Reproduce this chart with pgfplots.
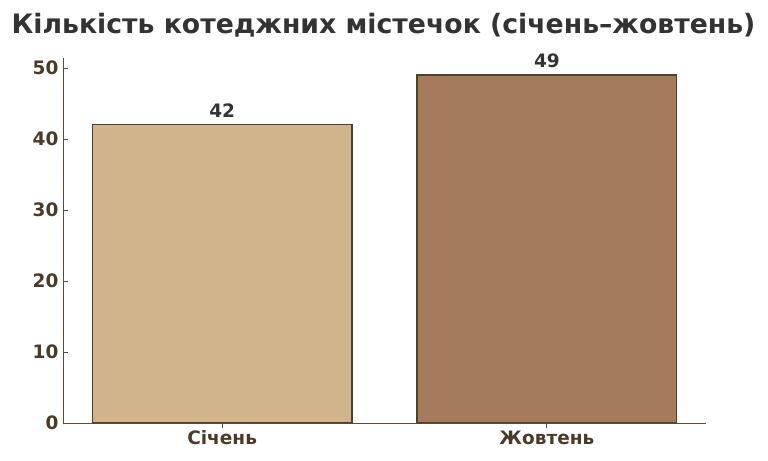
\documentclass[border=0pt]{standalone}
\usepackage{pgfplots}
\pgfplotsset{compat=1.18}
\usepackage{fontspec}
\setmainfont{DejaVu Sans}

\definecolor{janbar}{HTML}{D2B48C}
\definecolor{octbar}{HTML}{A67B5B}
\definecolor{edgebrown}{HTML}{4F3F2C}
\definecolor{axisbrown}{HTML}{5C4A36}
\definecolor{ticktext}{HTML}{4A3A28}
\definecolor{titlegray}{HTML}{333333}

\begin{document}
\begin{tikzpicture}
\path[use as bounding box] (-63bp,-38bp) rectangle (705bp,423bp);
\begin{axis}[
    scale only axis,
    width=643bp, height=365bp,
    xmin=-0.49, xmax=1.49,
    ymin=0, ymax=51.4,
    axis on top,
    axis x line=bottom,
    axis y line=left,
    axis line style={axisbrown, line width=0.9pt, -},
    xtick={0,1},
    xticklabels={Січень,Жовтень},
    ytick={0,10,20,30,40,50},
    tick style={axisbrown, line width=0.8pt},
    tick align=inside,
    major tick length=5bp,
    ticklabel style={font=\bfseries\fontsize{18.5bp}{21bp}\selectfont, text=ticktext},
    /pgf/number format/assume math mode=true,
    xticklabel style={yshift=1bp},
    yticklabel style={xshift=-1bp},
    ybar, bar width=0.8,
    bar shift=0pt,
    nodes near coords,
    every node near coord/.append style={font=\bfseries\fontsize{18.5bp}{21bp}\selectfont, text=titlegray, yshift=3bp},
    clip=false,
]
\addplot[fill=janbar, draw=edgebrown, line width=1.4pt] coordinates {(0,42)};
\addplot[fill=octbar, draw=edgebrown, line width=1.4pt] coordinates {(1,49)};
\end{axis}
\node[font=\bfseries\fontsize{26.7bp}{30bp}\selectfont, text=titlegray] at (320.5bp,398bp) {Кількість котеджних містечок (січень–жовтень)};
\end{tikzpicture}
\end{document}
